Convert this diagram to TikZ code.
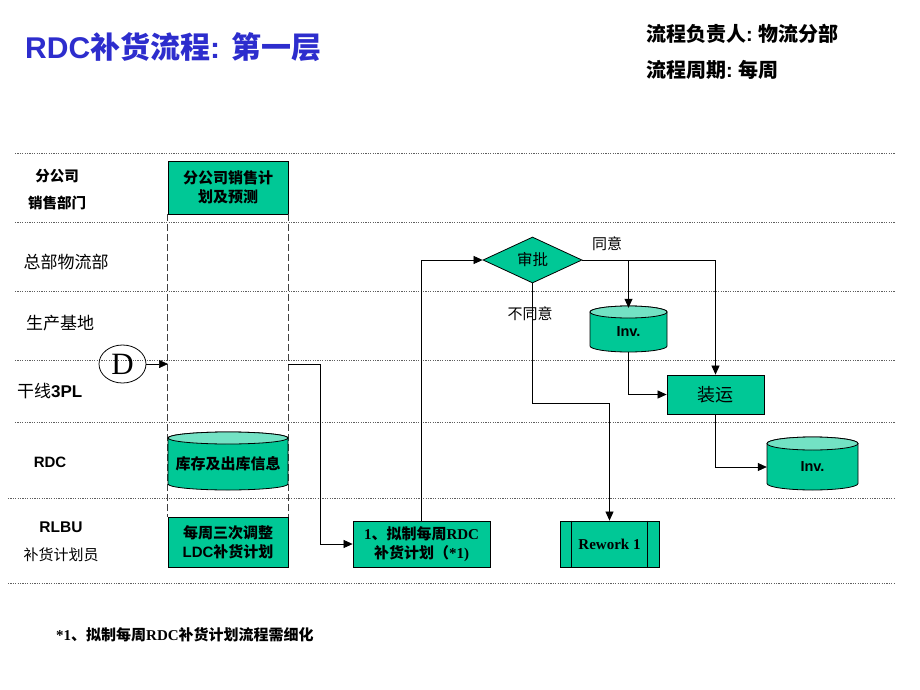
\documentclass[tikz,border=0pt]{standalone}
\usepackage{fontspec}
\setmainfont{Liberation Sans}
\newfontfamily\cjk{Noto Sans CJK SC}
\newfontfamily\serifL{Liberation Serif}
\usetikzlibrary{shapes.geometric,arrows.meta,calc}
\definecolor{boxteal}{RGB}{0,200,150}
\definecolor{topteal}{RGB}{115,226,196}
\definecolor{titleblue}{RGB}{45,45,205}
\definecolor{lanegray}{RGB}{95,95,95}
% cylinder body: #1 x-centre, #2 y-centre, #3 half width, #4 half height, #5 ry
\newcommand\cylshape[5]{%
  \filldraw[cylline, fill=boxteal] (#1-#3, #2-#4+#5) -- (#1-#3, #2+#4-#5)
    arc[start angle=180, end angle=360, x radius=#3pt, y radius=#5pt]
    -- (#1+#3, #2-#4+#5)
    arc[start angle=0, end angle=180, x radius=#3pt, y radius=#5pt] -- cycle;
  \filldraw[cylline, fill=topteal] (#1, #2-#4+#5) ellipse [x radius=#3pt, y radius=#5pt];
}
\begin{document}
\begin{tikzpicture}[x=1pt,y=-1pt,
  lane/.style={draw=lanegray, line width=0.9pt, dash pattern=on 1.2pt off 1.2pt},
  guide/.style={draw=black!75, line width=0.8pt, dash pattern=on 7pt off 3pt},
  box/.style={draw=black, fill=boxteal, line width=0.8pt, inner sep=0pt, align=center,
    font=\cjk\bfseries\fontsize{15}{19}\selectfont},
  cylline/.style={draw=black, line width=0.8pt},
  cyltext/.style={inner sep=0pt, align=center},
  flow/.style={draw=black, line width=0.7pt, -{Triangle[length=9pt,width=8pt]}},
  lbl/.style={inner sep=0pt, align=center},
  lanebold/.style={lbl, font=\cjk\bfseries\fontsize{14.5}{18}\selectfont},
  lanenorm/.style={lbl, font=\cjk\fontsize{17}{20}\selectfont},
  note/.style={lbl, font=\cjk\fontsize{15}{18}\selectfont},
]
\useasboundingbox (0,0) rectangle (920,690);

% swim lanes
\foreach \yy in {153,222,291,360,422} \draw[lane] (15,\yy) -- (895,\yy);
\foreach \yy in {498,583} \draw[lane] (8,\yy) -- (895,\yy);

% title and header
\node[lbl, anchor=west, text=titleblue, font=\bfseries\fontsize{30}{34}\selectfont] (title) at (25,47)
  {RDC{\cjk 补货流程}: {\cjk 第一层}};
\node[lbl, anchor=west, font=\cjk\bfseries\fontsize{20}{24}\selectfont] (owner) at (646,34)
  {流程负责人{\rmfamily\bfseries :} 物流分部};
\node[lbl, anchor=west, font=\cjk\bfseries\fontsize{20}{24}\selectfont] (cycle) at (646,70)
  {流程周期{\rmfamily\bfseries :} 每周};

% lane labels
\node[lanebold] (l1a) at (57,176) {分公司};
\node[lanebold] (l1b) at (57,203) {销售部门};
\node[lanenorm] (l2) at (66,262) {总部物流部};
\node[lanenorm] (l3) at (60,323) {生产基地};
\node[lanenorm, anchor=west] (l4) at (17,391) {干线{\rmfamily\bfseries 3PL}};
\node[lbl, font=\bfseries\fontsize{15}{18}\selectfont] (l5) at (50,462) {RDC};
\node[lbl, font=\bfseries\fontsize{15.5}{18}\selectfont] (l6a) at (61,527) {RLBU};
\node[lbl, font=\cjk\fontsize{15}{18}\selectfont] (l6b) at (61,555) {补货计划员};

% left column
\node[box, minimum width=120pt, minimum height=53pt] (sales) at (228,187.5) {分公司销售计\\划及预测};
\node[box, minimum width=120pt, minimum height=50pt] (ldc) at (228,542)
  {每周三次调整\\{\rmfamily\bfseries LDC}补货计划};
\draw[guide] (sales.south west) -- (ldc.north west);
\draw[guide] (sales.south east) -- (ldc.north east);
\cylshape{228}{461}{60}{29}{6}
\node[cyltext, minimum width=120pt, minimum height=58pt, font=\cjk\bfseries\fontsize{15}{18}\selectfont] (stock) at (228,464) {库存及出库信息};

% D start
\node[ellipse, draw=black, line width=0.8pt, minimum width=47pt, minimum height=38pt, inner sep=0pt,
  font=\serifL\fontsize{31}{31}\selectfont] (D) at (122.5,364) {D};
\coordinate (din) at (168,364);
\draw[flow] (D.east) -- (din);

% RDC plan
\node[box, minimum width=137pt, minimum height=46pt] (rdcplan) at (421.5,544)
  {{\serifL\bfseries 1}、拟制每周{\serifL\bfseries RDC}\\补货计划（{\serifL\bfseries *1)}};
\coordinate (out3pl) at (288,364);
\draw[flow] (out3pl) -- ++(32,0) |- (rdcplan.west);

% approval
\node[diamond, draw=black, fill=boxteal, line width=0.8pt, minimum width=99pt, minimum height=46pt,
  inner sep=0pt, font=\cjk\fontsize{15.5}{18}\selectfont] (approve) at (532.5,260) {审批};
\draw[flow] (rdcplan.north) |- (approve.west);

% inventories and shipping
\cylshape{628.5}{329}{38.5}{23}{6}
\node[cyltext, minimum width=77pt, minimum height=46pt, font=\bfseries\fontsize{14.5}{17}\selectfont] (inv1) at (628.5,332) {Inv.};
\node[box, minimum width=97pt, minimum height=39pt, font=\cjk\fontsize{18}{21}\selectfont] (ship) at (715.5,394.5) {装运};
\cylshape{812.5}{463.5}{45.5}{26.5}{6.5}
\node[cyltext, minimum width=91pt, minimum height=53pt, font=\bfseries\fontsize{14.5}{17}\selectfont] (inv2) at (812.5,467) {Inv.};

\node[box, minimum width=99pt, minimum height=46pt, font=\serifL\bfseries\fontsize{15}{18}\selectfont] (rework) at (609.5,544) {Rework 1};
\draw[line width=0.8pt] ([xshift=12pt]rework.north west) -- ([xshift=12pt]rework.south west);
\draw[line width=0.8pt] ([xshift=-12pt]rework.north east) -- ([xshift=-12pt]rework.south east);

\draw[flow] (approve.east) -| (ship.north);
\draw[flow] (approve.east -| inv1.north) -- ([yshift=1pt]inv1.north);
\draw[flow] ([yshift=3pt]inv1.south) |- (ship.west);
\draw[flow] (ship.south) |- (inv2.west);
\draw[flow] (approve.south) -- ++(0,120) -| (rework.north);

\node[note] (agree) at (607,244) {同意};
\node[note] (disagree) at (530,314) {不同意};

% footnote
\node[lbl, anchor=west, font=\cjk\bfseries\fontsize{15}{18}\selectfont] (foot) at (56,635)
  {{\serifL\bfseries *1}、拟制每周{\serifL\bfseries RDC}补货计划流程需细化};
\end{tikzpicture}
\end{document}
